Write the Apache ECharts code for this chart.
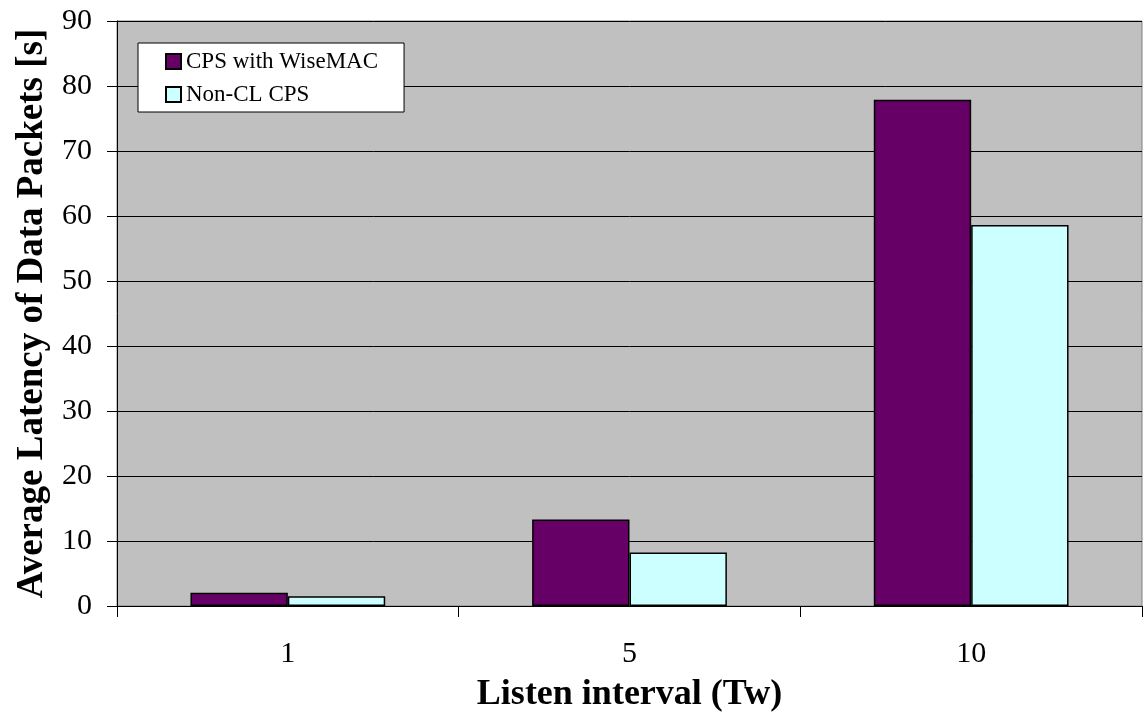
<!DOCTYPE html>
<html><head><meta charset="utf-8">
<script src="https://cdn.jsdelivr.net/npm/echarts@6/dist/echarts.min.js"></script>
<style>html,body{margin:0;padding:0;background:#fff}#c{width:1144px;height:713px}</style>
</head><body><div id="c"></div>
<script>
const categories = ['1', '5', '10'];
const wiseMac = [2.05, 13.3, 77.9];
const nonCL = [1.5, 8.25, 58.6];
const seriesNames = ['CPS with WiseMAC', 'Non-CL CPS'];
const font = 'Liberation Serif';
const chart = echarts.init(document.getElementById('c'));
chart.setOption({
  animation: false,
  grid: {left: 117, right: 2, top: 21, bottom: 107, containLabel: false, outerBoundsMode: 'none',
         show: true, backgroundColor: '#C0C0C0', borderColor: '#808080', borderWidth: 1},
  legend: {
    orient: 'vertical', left: 138, top: 43,
    backgroundColor: '#fff', borderColor: '#000', borderWidth: 1,
    padding: [7, 26, 6, 27], itemGap: 10, itemWidth: 15, itemHeight: 15,
    icon: 'rect',
    textStyle: {fontFamily: font, fontSize: 23, color: '#000'},
    data: seriesNames
  },
  xAxis: {
    type: 'category', data: categories,
    name: 'Listen interval (Tw)', nameLocation: 'middle', nameGap: 71,
    nameTextStyle: {fontFamily: font, fontSize: 36, fontWeight: 'bold', color: '#000'},
    axisLine: {lineStyle: {color: '#000', width: 1}},
    axisTick: {show: true, length: 11, lineStyle: {color: '#000'}},
    axisLabel: {fontFamily: font, fontSize: 30, color: '#000', margin: 33}
  },
  yAxis: {
    type: 'value', min: 0, max: 90, interval: 10,
    name: 'Average Latency of Data Packets [s]', nameLocation: 'middle', nameGap: 66,
    nameTextStyle: {fontFamily: font, fontSize: 37, fontWeight: 'bold', color: '#000'},
    axisLine: {show: true, lineStyle: {color: '#000', width: 1}},
    axisTick: {show: true, length: 10, lineStyle: {color: '#000'}},
    axisLabel: {fontFamily: font, fontSize: 30, color: '#000', margin: 25},
    splitLine: {lineStyle: {color: '#000', width: 1}}
  },
  series: [
    {name: seriesNames[0], type: 'bar', data: wiseMac, barGap: '0%', barCategoryGap: '43%',
     itemStyle: {color: '#660066', borderColor: '#000', borderWidth: 1.5}},
    {name: seriesNames[1], type: 'bar', data: nonCL, barGap: '0%', barCategoryGap: '43%',
     itemStyle: {color: '#CCFFFF', borderColor: '#000', borderWidth: 1.5}}
  ]
});
</script></body></html>
